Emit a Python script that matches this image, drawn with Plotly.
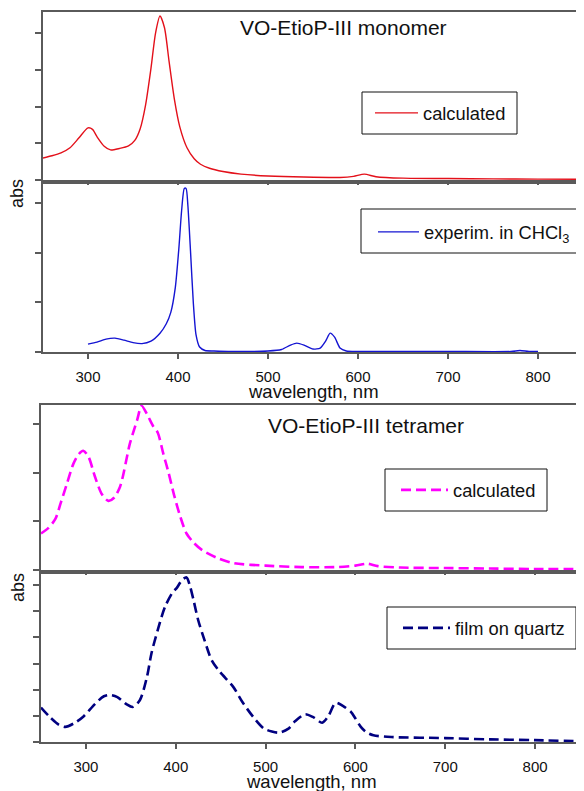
import plotly.graph_objects as go

# ---------------- data ----------------
mono_calc_wl = [250, 260, 270, 280, 290, 300, 305, 310, 318, 325, 335, 345, 352, 358, 364, 370, 375, 380,
                385, 390, 396, 402, 410, 418, 425, 435, 450, 470, 500, 540, 580, 595, 607, 620, 650, 700,
                750, 800, 850]
mono_calc_abs = [0.60, 0.66, 0.74, 0.88, 1.15, 1.42, 1.38, 1.18, 0.92, 0.82, 0.86, 0.93, 1.08, 1.40, 2.05,
                 3.05, 4.00, 4.47, 4.15, 3.25, 2.20, 1.45, 0.88, 0.58, 0.43, 0.32, 0.23, 0.16, 0.11, 0.08,
                 0.07, 0.10, 0.16, 0.09, 0.05, 0.04, 0.03, 0.025, 0.02]

mono_exp_wl = [300, 310, 320, 330, 340, 350, 360, 370, 380, 387, 392, 397, 401, 404, 407, 409, 411, 414,
               417, 420, 424, 430, 440, 460, 500, 515, 525, 532, 540, 550, 558, 564, 569, 574, 580, 587,
               600, 700, 770, 780, 790, 800]
mono_exp_abs = [0.16, 0.20, 0.26, 0.28, 0.24, 0.19, 0.17, 0.22, 0.38, 0.57, 0.80, 1.30, 2.10, 2.85, 3.30,
                3.30, 2.95, 2.00, 1.00, 0.35, 0.10, 0.03, 0.02, 0.01, 0.02, 0.05, 0.14, 0.18, 0.14, 0.06,
                0.08, 0.22, 0.38, 0.30, 0.08, 0.02, 0.01, 0.01, 0.01, 0.03, 0.01, 0.01]

tetra_calc_wl = [250, 258, 266, 272, 279, 286, 292, 297, 303, 310, 318, 325, 331, 338, 349, 357, 362, 368,
                 375, 380, 386, 392, 398, 405, 412, 420, 430, 446, 465, 500, 540, 580, 600, 613, 625, 650,
                 700, 750, 800, 850]
tetra_calc_abs = [0.75, 0.86, 1.05, 1.38, 1.78, 2.18, 2.38, 2.45, 2.32, 1.92, 1.55, 1.42, 1.48, 1.71, 2.60,
                  3.08, 3.37, 3.20, 2.95, 2.82, 2.40, 2.00, 1.55, 1.10, 0.75, 0.56, 0.40, 0.25, 0.14, 0.09,
                  0.06, 0.06, 0.09, 0.13, 0.08, 0.05, 0.04, 0.03, 0.02, 0.02]

tetra_film_wl = [250, 260, 270, 277, 287, 297, 310, 320, 327, 335, 345, 352, 360, 368, 373, 380, 388, 397,
                 401, 407, 412, 416, 420, 425, 432, 440, 449, 464, 474, 486, 498, 507, 515, 525, 533, 544,
                 553, 563, 570, 578, 586, 595, 600, 606, 612, 620, 640, 700, 750, 800, 850]
tetra_film_abs = [1.32, 0.95, 0.66, 0.58, 0.72, 0.97, 1.45, 1.75, 1.80, 1.72, 1.45, 1.34, 1.60, 2.50, 3.40,
                  4.29, 5.17, 5.75, 5.89, 6.20, 6.30, 5.95, 5.40, 4.66, 3.90, 3.13, 2.69, 2.11, 1.54, 0.97,
                  0.52, 0.40, 0.36, 0.50, 0.80, 1.06, 0.95, 0.74, 1.00, 1.50, 1.38, 1.15, 0.90, 0.58, 0.38,
                  0.26, 0.19, 0.15, 0.10, 0.07, 0.03]

x_tick_vals = [300, 400, 500, 600, 700, 800]
x_tick_text = ["300", "400", "500", "600", "700", "800"]
x_range = [250, 850]

# ---------------- layout helpers ----------------
# the page body has an 8px default margin, so the figure is offset by 8px
OFF = 8
W, H = 576, 783
FONT = "Arial, Liberation Sans, sans-serif"
AX = "#5a5a5a"
TXT = "#111111"


def py(p):
    return 1 - (p - OFF) / H


def pxx(p):
    return (p - OFF) / W


fig = go.Figure()
fig.add_trace(go.Scatter(x=mono_calc_wl, y=mono_calc_abs, mode="lines", name="calculated",
                         line=dict(color="#e3101a", width=1.4, shape="spline", smoothing=0.7),
                         xaxis="x", yaxis="y", legend="legend"))
fig.add_trace(go.Scatter(x=mono_exp_wl, y=mono_exp_abs, mode="lines", name="experim. in CHCl<sub>3</sub>",
                         line=dict(color="#1414d2", width=1.4, shape="spline", smoothing=0.6),
                         xaxis="x2", yaxis="y2", legend="legend2"))
fig.add_trace(go.Scatter(x=tetra_calc_wl, y=tetra_calc_abs, mode="lines", name="calculated",
                         line=dict(color="#ff00ff", width=2.6, shape="spline", smoothing=0.8, dash="10px,5px"),
                         xaxis="x3", yaxis="y3", legend="legend3"))
fig.add_trace(go.Scatter(x=tetra_film_wl, y=tetra_film_abs, mode="lines", name="film on quartz",
                         line=dict(color="#000080", width=2.6, shape="spline", smoothing=0.8, dash="10px,5px"),
                         xaxis="x4", yaxis="y4", legend="legend4"))

axis_common = dict(showline=True, linecolor=AX, linewidth=2, mirror=True, ticks="outside",
                   tickcolor=AX, tickwidth=1.5, showgrid=False, zeroline=False,
                   tickfont=dict(family=FONT, size=15, color=TXT))

xa = dict(axis_common, range=x_range, tickmode="array", tickvals=x_tick_vals, ticktext=x_tick_text,
          ticklen=5, ticklabelstandoff=5)
ya = dict(axis_common, ticklen=6, showticklabels=False, tickmode="linear", tick0=0, dtick=1)

top_dom = [pxx(43), pxx(583)]
bot_dom = [pxx(41), pxx(580)]

fig.update_layout(
    width=W, height=H, autosize=False,
    margin=dict(l=0, r=0, t=0, b=0),
    paper_bgcolor="white", plot_bgcolor="white",
    font=dict(family=FONT, color=TXT),
    showlegend=True,
    xaxis=dict(xa, domain=top_dom, anchor="y", showticklabels=False, ticklen=3),
    yaxis=dict(ya, domain=[py(180), py(12)], anchor="x", range=[0, 4.58]),
    xaxis2=dict(xa, domain=top_dom, anchor="y2", showticklabels=True),
    yaxis2=dict(ya, domain=[py(352), py(184)], anchor="x2", range=[0, 3.39]),
    xaxis3=dict(xa, domain=bot_dom, anchor="y3", showticklabels=False, ticklen=3),
    yaxis3=dict(ya, domain=[py(570), py(405)], anchor="x3", range=[0, 3.39]),
    xaxis4=dict(xa, domain=bot_dom, anchor="y4", showticklabels=True),
    yaxis4=dict(ya, domain=[py(742), py(574)], anchor="x4", range=[0, 6.43]),
)

leg_common = dict(bgcolor="rgba(0,0,0,0)", borderwidth=0, xanchor="left", yanchor="middle",
                  font=dict(family=FONT, size=18.3, color=TXT), xref="paper", yref="paper")
fig.update_layout(
    legend=dict(leg_common, x=pxx(370), y=py(113), itemwidth=43),
    legend2=dict(leg_common, x=pxx(373), y=py(232), itemwidth=41),
    legend3=dict(leg_common, x=pxx(396), y=py(490), itemwidth=47),
    legend4=dict(leg_common, x=pxx(398), y=py(628), itemwidth=47),
)

# legend frames
for (x0, y0, x1, y1) in [(362, 92, 517, 134), (361, 209, 580, 253), (385, 469, 547, 511), (387, 607, 576, 649)]:
    fig.add_shape(type="rect", xref="paper", yref="paper", x0=pxx(x0), x1=pxx(x1), y0=py(y1), y1=py(y0),
                  line=dict(color=TXT, width=1), fillcolor="rgba(0,0,0,0)", layer="above")

ann = []


def label(text, x, y, size, angle=0):
    ann.append(dict(text=text, x=pxx(x), y=py(y), xref="paper", yref="paper", xanchor="center",
                    yanchor="middle", textangle=angle, showarrow=False,
                    font=dict(size=size, family=FONT, color=TXT)))


label("VO-EtioP-III monomer", 343, 28, 21)
label("VO-EtioP-III tetramer", 366, 425, 21)
label("abs", 17, 194, 18, -90)
label("abs", 18, 588, 18, -90)
label("wavelength, nm", 313, 391, 18.5)
label("wavelength, nm", 311, 781, 18.5)
fig.update_layout(annotations=ann)

fig.write_html("out.html")
